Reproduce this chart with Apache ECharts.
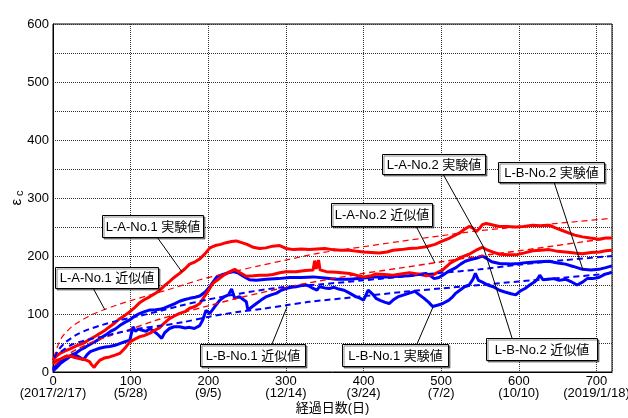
<!DOCTYPE html>
<html><head><meta charset="utf-8">
<script src="https://cdn.jsdelivr.net/npm/echarts/dist/echarts.min.js"></script>
<style>html,body{margin:0;padding:0;background:#fff}#c{width:628px;height:418px}</style>
</head><body><div id="c"></div>
<script>
// ---- data ----
const xTickDays = [0,100,200,300,400,500,600,700];
const xTickDates = ['(2017/2/17)','(5/28)','(9/5)','(12/14)','(3/24)','(7/2)','(10/10)','(2019/1/18)'];
const yTickLabels = [0,100,200,300,400,500,600];

// L-A-No.1 実験値 (red, upper)
const laNo1Exp = [[0,20],[4,27],[9,32],[15,36],[22,40],[30,45],[38,49],[47,56],[55,62],[61,67],[68,73],[73,78],[80,85],[86,92],[93,98],[99,104],[106,112],[112,120],[118,125],[125,130],[131,135],[137,140],[143,148],[150,156],[156,163],[163,170],[170,178],[176,186],[183,190],[189,195],[196,204],[202,214],[209,218],[216,220],[223,223],[230,225],[236,226],[243,223],[250,220],[258,215],[266,213],[274,214],[283,217],[292,218],[300,213],[310,211],[320,212],[330,211],[340,212],[350,213],[360,211],[370,210],[382,210],[392,208],[400,207],[410,206],[420,205],[430,207],[438,210],[448,211],[459,213],[470,214],[481,216],[492,220],[502,226],[511,231],[518,236],[524,240],[530,246],[536,251],[541,248],[545,242],[549,247],[553,254],[558,256],[565,254],[575,251],[585,251],[596,250],[606,251],[618,253],[628,252],[639,253],[648,248],[656,244],[664,240],[672,236],[682,233],[692,231],[703,229],[712,231],[720,231]];
// L-A-No.2 実験値 (red, lower)
const laNo2Exp = [[0,14],[5,20],[9,22],[15,26],[22,28],[28,25],[35,23],[42,21],[47,18],[50,12],[53,8],[56,14],[60,20],[66,24],[73,26],[80,29],[86,32],[92,40],[99,52],[106,57],[112,61],[118,63],[125,67],[131,72],[137,76],[143,84],[150,92],[157,97],[163,101],[170,104],[176,110],[183,113],[189,118],[194,128],[200,140],[206,153],[213,160],[220,167],[228,173],[234,177],[240,172],[249,165],[258,166],[266,167],[275,167],[283,168],[292,171],[300,173],[313,173],[325,175],[335,176],[337,192],[339,178],[342,193],[344,176],[352,173],[365,172],[382,170],[393,166],[400,164],[410,166],[416,169],[427,168],[438,167],[448,169],[459,171],[470,169],[481,166],[490,168],[502,176],[511,187],[519,193],[526,198],[536,203],[545,210],[553,215],[560,210],[566,207],[575,203],[587,202],[596,202],[606,205],[618,209],[628,210],[639,211],[650,208],[660,207],[672,205],[682,204],[693,206],[704,207],[712,209],[720,210]];
// L-B-No.2 実験値 (blue, upper)
const lbNo2Exp = [[0,5],[5,12],[10,18],[17,22],[22,27],[30,33],[35,38],[42,43],[48,48],[55,53],[61,58],[68,64],[74,70],[80,74],[86,80],[93,86],[99,90],[106,97],[112,101],[118,104],[125,107],[131,107],[137,108],[143,110],[150,114],[157,118],[163,122],[170,125],[176,127],[183,129],[189,131],[196,138],[202,147],[206,155],[211,164],[218,168],[225,171],[232,173],[238,171],[245,165],[253,159],[262,158],[275,160],[290,161],[305,163],[320,163],[335,164],[350,162],[365,160],[382,160],[400,162],[416,164],[430,164],[445,165],[459,166],[470,168],[480,170],[486,166],[491,161],[497,163],[502,167],[510,174],[519,180],[525,186],[531,191],[538,194],[545,196],[553,200],[558,196],[565,190],[575,187],[590,186],[600,187],[612,189],[625,190],[639,191],[650,188],[660,186],[670,182],[682,177],[693,176],[703,177],[712,180],[720,183]];
// L-B-No.1 実験値 (blue, lower)
const lbNo1Exp = [[0,2],[5,8],[9,14],[15,20],[21,26],[26,31],[31,28],[36,24],[39,21],[44,30],[48,35],[54,38],[60,41],[67,43],[73,44],[80,46],[86,49],[92,52],[99,55],[103,78],[106,70],[110,74],[115,72],[120,70],[125,75],[130,70],[134,66],[137,62],[140,58],[144,68],[150,75],[156,78],[163,78],[170,76],[176,77],[182,75],[189,80],[193,90],[197,106],[202,101],[208,112],[215,124],[221,130],[226,133],[230,143],[234,127],[240,130],[245,125],[249,121],[251,107],[256,112],[262,118],[268,124],[275,130],[281,133],[288,136],[294,141],[300,144],[307,146],[313,147],[320,149],[326,150],[330,148],[335,144],[340,141],[343,147],[350,145],[356,144],[362,146],[368,143],[375,141],[382,136],[390,130],[396,127],[400,124],[406,141],[412,134],[416,127],[422,123],[428,120],[433,118],[438,124],[445,130],[452,133],[459,136],[466,139],[472,133],[478,127],[484,120],[489,113],[495,115],[502,118],[510,124],[515,130],[519,136],[524,141],[530,147],[536,150],[541,160],[544,170],[548,158],[553,155],[560,150],[567,147],[575,141],[582,138],[590,135],[596,133],[602,140],[608,144],[614,150],[620,155],[624,160],[627,167],[631,159],[638,160],[645,161],[652,158],[660,160],[667,156],[675,150],[682,155],[688,161],[695,161],[703,163],[710,168],[715,170],[720,172]];

// 近似値 (dashed)
const laNo1Fit = [[1,25],[3,33],[7,48],[12,61],[18,70],[24,78],[33,86],[42,93],[52,100],[63,106],[75,112],[88,118],[100,123],[120,131],[146,141],[170,151],[189,159],[210,166],[232,173],[265,183],[300,193],[343,205],[400,216],[446,225],[500,235],[545,243],[600,250],[639,255],[680,260],[720,265]];
const laNo2Fit = [[3,12],[10,22],[20,31],[35,42],[50,51],[70,61],[100,74],[130,88],[163,101],[200,114],[240,128],[300,146],[343,157],[400,170],[446,179],[500,190],[560,202],[600,209],[643,217],[680,224],[720,231]];
const lbNo2Fit = [[2,25],[7,38],[15,50],[24,59],[33,66],[45,73],[63,81],[85,89],[112,97],[140,106],[163,114],[200,125],[240,135],[288,145],[343,151],[400,158],[446,164],[500,171],[550,177],[600,185],[660,193],[720,200]];
const lbNo1Fit = [[10,35],[24,47],[40,54],[63,61],[85,68],[112,75],[140,80],[168,86],[200,95],[240,104],[270,109],[300,115],[330,121],[395,130],[450,138],[500,144],[550,150],[600,156],[660,163],[720,170]];

const annotations = [
  {text:'L-A-No.1 実験値', box:[102,215,101,22], line:[157,237,182,272]},
  {text:'L-A-No.1 近似値', box:[55,267,103,21], line:[93,288,105,310]},
  {text:'L-B-No.1 近似値', box:[200,344,105,22], line:[272,344,287,307]},
  {text:'L-A-No.2 実験値', box:[382,154,103,20], line:[443,174,483,246]},
  {text:'L-B-No.2 実験値', box:[498,162,106,20], line:[554,182,583,270]},
  {text:'L-A-No.2 近似値', box:[331,203,101,23], line:[416,226,435,263]},
  {text:'L-B-No.1 実験値', box:[342,344,106,22], line:[417,344,433,307]},
  {text:'L-B-No.2 近似値', box:[486,338,111,22], line:[512,338,483,246]}
];

// ---- chart ----
const RED='#ff0000', BLUE='#0000ff';
const FONT='"Liberation Sans", Arial, "Noto Sans CJK JP", sans-serif';
const chart = echarts.init(document.getElementById('c'), null, {renderer:'canvas'});

function expSeries(data,color){
  return {type:'line', data, showSymbol:false, symbol:'none', animation:false,
    lineStyle:{color, width:3}, z:3};
}
function fitSeries(data,color,w){
  return {type:'line', data, showSymbol:false, symbol:'none', smooth:0.3, animation:false,
    lineStyle:{color, width:w, type:[6,4]}, z:4};
}

const graphics = [];
annotations.forEach(a=>{
  graphics.push({type:'line', z:50, shape:{x1:a.line[0],y1:a.line[1],x2:a.line[2],y2:a.line[3]},
    style:{stroke:'#000', lineWidth:1}});
});
annotations.forEach(a=>{
  graphics.push({type:'rect', z:60, shape:{x:a.box[0]+0.5,y:a.box[1]+0.5,width:a.box[2],height:a.box[3]},
    style:{fill:'#fff', stroke:'#000', lineWidth:1, shadowColor:'rgba(0,0,0,0.45)', shadowOffsetX:1.5, shadowOffsetY:1.5, shadowBlur:0}});
  graphics.push({type:'text', z:61, x:a.box[0]+a.box[2]/2+0.5, y:a.box[1]+a.box[3]/2+1,
    style:{text:a.text, fill:'#000', font:'13px '+FONT, align:'center', verticalAlign:'middle'}});
});

chart.setOption({
  animation:false,
  backgroundColor:'#fff',
  grid:{left:53, top:24, right:16, bottom:46, outerBoundsMode:'none', containLabel:false,
    show:true, borderColor:'#000', borderWidth:1, backgroundColor:'transparent'},
  xAxis:{type:'value', min:0, max:720, interval:100,
    name:'経過日数(日)', nameLocation:'middle', nameGap:30, nameMoveOverlap:false,
    nameTextStyle:{fontFamily:FONT, fontSize:13, color:'#000'},
    axisLine:{show:true, lineStyle:{color:'#000', width:1}},
    axisTick:{show:false},
    axisLabel:{color:'#000', fontFamily:FONT, fontSize:13, lineHeight:11.5, margin:4,
      formatter:v=>{const i=xTickDays.indexOf(v); return i<0?'':(v+'\n'+xTickDates[i]);}},
    splitLine:{show:true, lineStyle:{color:'#333', type:[1,1], width:1}}
  },
  yAxis:{type:'value', min:0, max:600, interval:50,
    name:'{e|ε}{c| c}', nameLocation:'middle', nameGap:28, nameRotate:90, nameMoveOverlap:false,
    nameTextStyle:{fontFamily:FONT, color:'#000',
      rich:{e:{fontSize:15, fontFamily:FONT}, c:{fontSize:11, fontFamily:FONT, padding:[6,0,0,0]}}},
    axisLine:{show:true, lineStyle:{color:'#000', width:1}},
    axisTick:{show:false},
    axisLabel:{color:'#000', fontFamily:FONT, fontSize:13, margin:4,
      formatter:v=>yTickLabels.indexOf(v)>=0?String(v):''},
    splitLine:{show:true, lineStyle:{color:'#333', type:[1,1], width:1}}
  },
  series:[
    expSeries(lbNo1Exp,BLUE),
    expSeries(lbNo2Exp,BLUE),
    expSeries(laNo2Exp,RED),
    expSeries(laNo1Exp,RED),
    fitSeries(laNo1Fit,RED,1.2),
    fitSeries(laNo2Fit,RED,1.4),
    fitSeries(lbNo2Fit,BLUE,2),
    fitSeries(lbNo1Fit,BLUE,2)
  ],
  graphic:graphics
});
</script></body></html>
